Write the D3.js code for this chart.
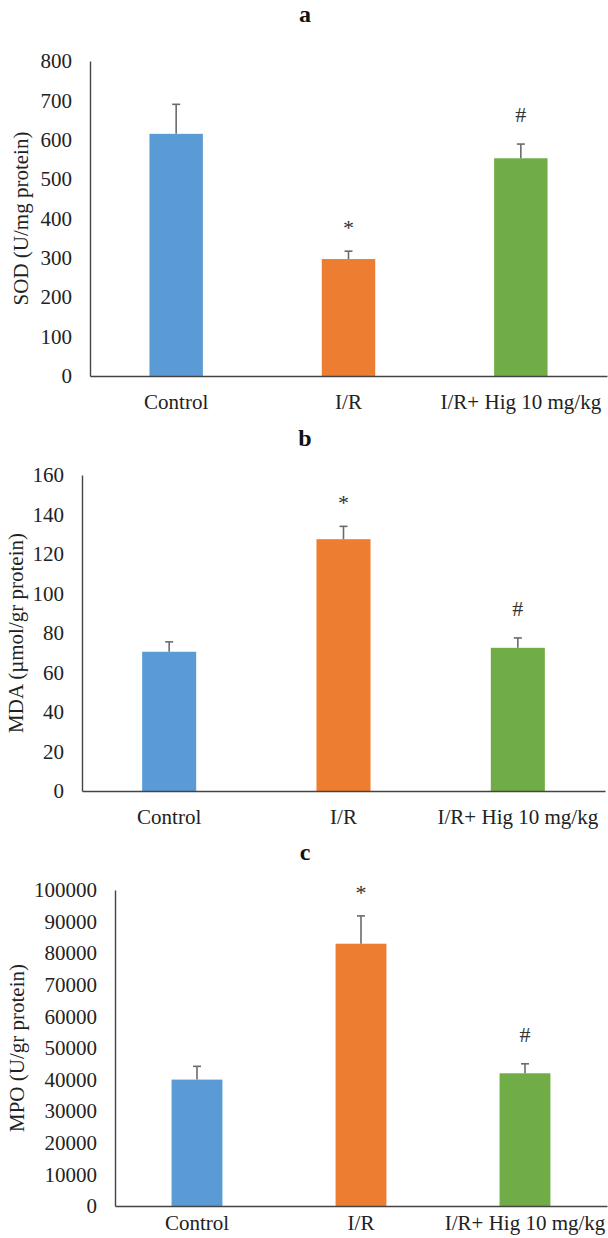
<!DOCTYPE html>
<html>
<head>
<meta charset="utf-8">
<script src="https://cdn.jsdelivr.net/npm/d3@7"></script>
<style>
  body { margin: 0; background: #fff; }
  svg { display: block; font-family: "Liberation Serif", "DejaVu Serif", serif; }
</style>
</head>
<body>
<div id="container"></div>
<script>
/* DATA */
const categories = ["Control", "I/R", "I/R+ Hig 10 mg/kg"];
const barColors = ["#5B9BD5", "#ED7D31", "#70AD47"];
const signifMarks = ["", "*", "#"];

const sodMeans = [615, 297, 553];
const sodErrors = [75, 20, 36];
const sodTicks = [0, 100, 200, 300, 400, 500, 600, 700, 800];

const mdaMeans = [70.5, 127.5, 72.5];
const mdaErrors = [5, 6.5, 5];
const mdaTicks = [0, 20, 40, 60, 80, 100, 120, 140, 160];

const mpoMeans = [40000, 83000, 42000];
const mpoErrors = [4200, 8800, 3000];
const mpoTicks = [0, 10000, 20000, 30000, 40000, 50000, 60000, 70000, 80000, 90000, 100000];

/* LAYOUT */
const width = 608, height = 1238;

const panels = [
  { title: "a", yLabel: "SOD (U/mg protein)", means: sodMeans, errors: sodErrors, ticks: sodTicks,
    top: 61, bottom: 376, left: 90, right: 607, titleY: 22, labelX: 21, catPad: 18 },
  { title: "b", yLabel: "MDA (\u00B5mol/gr protein)", means: mdaMeans, errors: mdaErrors, ticks: mdaTicks,
    top: 475, bottom: 791, left: 82, right: 605, titleY: 446, labelX: 16, catPad: 18 },
  { title: "c", yLabel: "MPO (U/gr protein)", means: mpoMeans, errors: mpoErrors, ticks: mpoTicks,
    top: 890, bottom: 1206, left: 115, right: 607, titleY: 860, labelX: 17, catPad: 9 }
];

const fontSize = 21;

const svg = d3.select("#container")
  .append("svg")
  .attr("width", width)
  .attr("height", height);

svg.append("rect").attr("width", width).attr("height", height).attr("fill", "#fff");

panels.forEach(p => {
  const g = svg.append("g");

  const xScale = d3.scaleBand()
    .domain(categories)
    .range([p.left, p.right])
    .paddingInner(0.69)
    .paddingOuter(0.345);

  const yScale = d3.scaleLinear()
    .domain([0, d3.max(p.ticks)])
    .range([p.bottom, p.top]);

  // title
  g.append("text")
    .attr("x", 305)
    .attr("y", p.titleY)
    .attr("text-anchor", "middle")
    .attr("font-size", 24)
    .attr("font-weight", "bold")
    .attr("fill", "#111")
    .text(p.title);

  // bars
  g.selectAll("rect.bar")
    .data(categories)
    .join("rect")
    .attr("class", "bar")
    .attr("x", d => xScale(d))
    .attr("width", xScale.bandwidth())
    .attr("y", (d, i) => yScale(p.means[i]))
    .attr("height", (d, i) => p.bottom - yScale(p.means[i]))
    .attr("fill", (d, i) => barColors[i]);

  // error bars (upper half only)
  const err = g.selectAll("g.err")
    .data(categories)
    .join("g")
    .attr("class", "err")
    .attr("stroke", "#6b6b6b")
    .attr("stroke-width", 1.6);

  err.append("line")
    .attr("x1", d => xScale(d) + xScale.bandwidth() / 2)
    .attr("x2", d => xScale(d) + xScale.bandwidth() / 2)
    .attr("y1", (d, i) => yScale(p.means[i]))
    .attr("y2", (d, i) => yScale(p.means[i] + p.errors[i]));

  err.append("line")
    .attr("x1", d => xScale(d) + xScale.bandwidth() / 2 - 4)
    .attr("x2", d => xScale(d) + xScale.bandwidth() / 2 + 4)
    .attr("y1", (d, i) => yScale(p.means[i] + p.errors[i]))
    .attr("y2", (d, i) => yScale(p.means[i] + p.errors[i]));

  // significance marks
  g.selectAll("text.mark")
    .data(categories)
    .join("text")
    .attr("class", "mark")
    .attr("x", d => xScale(d) + xScale.bandwidth() / 2)
    .attr("y", (d, i) => yScale(p.means[i] + p.errors[i]) - 30 + (signifMarks[i] === "*" ? 14 : 8))
    .attr("text-anchor", "middle")
    .attr("font-size", 22)
    .attr("fill", "#333")
    .text((d, i) => signifMarks[i]);

  // y axis
  const yAxis = d3.axisLeft(yScale)
    .tickValues(p.ticks)
    .tickSize(0)
    .tickPadding(18)
    .tickFormat(d3.format("d"));

  const ya = g.append("g")
    .attr("transform", `translate(${p.left},0)`)
    .call(yAxis);
  ya.select(".domain").attr("stroke", "#444").attr("stroke-width", 1.4);
  ya.selectAll("text")
    .attr("font-size", fontSize)
    .attr("font-family", "Liberation Serif, serif")
    .attr("fill", "#222");

  // x axis
  const xAxis = d3.axisBottom(xScale)
    .tickSize(0)
    .tickPadding(p.catPad);

  const xa = g.append("g")
    .attr("transform", `translate(0,${p.bottom})`)
    .call(xAxis);
  xa.select(".domain").attr("stroke", "#444").attr("stroke-width", 1.4);
  xa.selectAll("text")
    .attr("font-size", fontSize)
    .attr("font-family", "Liberation Serif, serif")
    .attr("fill", "#222");

  // y label
  g.append("text")
    .attr("transform", `translate(${p.labelX},${(p.top + p.bottom) / 2}) rotate(-90)`)
    .attr("text-anchor", "middle")
    .attr("dominant-baseline", "central")
    .attr("font-size", fontSize)
    .attr("fill", "#222")
    .text(p.yLabel);
});
</script>
</body>
</html>
